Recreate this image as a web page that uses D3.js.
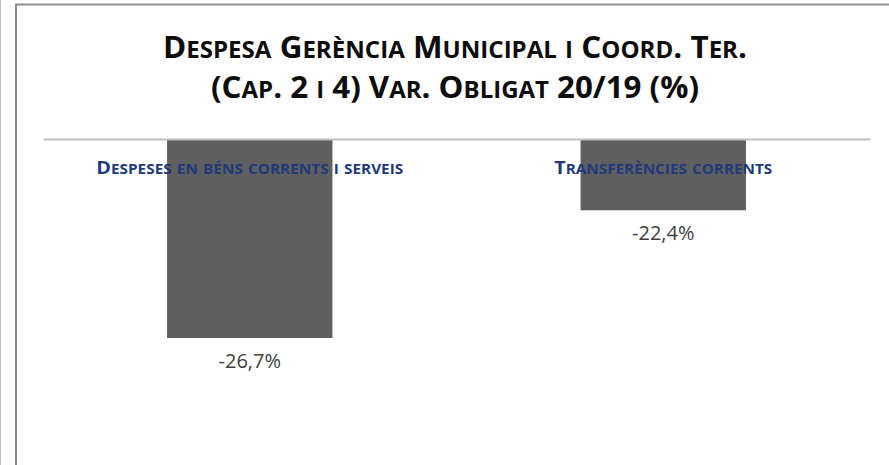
<!DOCTYPE html>
<meta charset="utf-8">
<body style="margin:0;background:#fff">
<style>
text { font-family: "Open Sans", "Noto Sans", sans-serif; }
.title { font-weight: bold; fill: #0d0d0d; }
.cat { font-weight: bold; fill: #1f3a7a; }
.val { fill: #404040; }
</style>
<script src="https://cdn.jsdelivr.net/npm/d3@7"></script>
<script>

var categories = ["Despeses en béns corrents i serveis", "Transferències corrents"];
var values = [-26.7, -22.4];
var valueLabels = ["-26,7%", "-22,4%"];
var titleLines = ["Despesa Gerència Municipal i Coord. Ter.", "(Cap. 2 i 4) Var. Obligat 20/19 (%)"];

var W = 889, H = 465;
var svg = d3.select("body").append("svg")
    .attr("width", W)
    .attr("height", H);

// fake small caps: lowercase runs become smaller uppercase tspans
function smallCaps(sel, big, small) {
  sel.each(function(d) {
    var t = d3.select(this);
    var runs = d.match(/[a-zà-ÿ]+|[^a-zà-ÿ]+/g);
    runs.forEach(function(r) {
      var low = /[a-zà-ÿ]/.test(r);
      t.append("tspan")
        .style("font-size", (low ? small : big) + "px")
        .text(low ? r.toUpperCase() : r);
    });
  });
}

// outer frame
svg.append("line").attr("x1", 0.5).attr("x2", 0.5).attr("y1", 0).attr("y2", H)
    .style("stroke", "#bbb").style("stroke-width", 1);
svg.append("path")
    .attr("d", "M16,465 V4.5 H889")
    .style("fill", "none").style("stroke", "#8c8c8c").style("stroke-width", 2);

var x = d3.scaleBand()
    .domain(categories)
    .range([43, 870])
    .paddingInner(0.6)
    .paddingOuter(0.3);

var y = d3.scaleLinear()
    .domain([-20, -30])
    .range([139, 436]);

// title
svg.selectAll(".title")
    .data(titleLines)
  .enter().append("text")
    .attr("class", "title")
    .attr("x", 455)
    .attr("y", function(d, i) { return 58 + i * 40; })
    .attr("text-anchor", "middle")
    .attr("textLength", function(d, i) { return i ? 488 : 584; })
    .attr("lengthAdjust", "spacingAndGlyphs")
    .call(smallCaps, 30, 23);

// bars
svg.selectAll(".bar")
    .data(values)
  .enter().append("rect")
    .attr("class", "bar")
    .attr("x", function(d, i) { return x(categories[i]); })
    .attr("y", y(-20))
    .attr("width", x.bandwidth())
    .attr("height", function(d) { return y(d) - y(-20); })
    .style("fill", "#5f5f5f");

// axis line at top of the value range
svg.append("g")
    .attr("transform", "translate(0," + y(-20) + ")")
    .call(d3.axisTop(x).tickSize(0).tickFormat(""))
    .call(function(g) {
      g.select(".domain").style("stroke", "#bfbfbf").style("stroke-width", 2);
    });

// category labels
svg.selectAll(".cat")
    .data(categories)
  .enter().append("text")
    .attr("class", "cat")
    .attr("x", function(d) { return x(d) + x.bandwidth() / 2; })
    .attr("y", 174)
    .attr("text-anchor", "middle")
    .attr("textLength", function(d, i) { return i ? 218 : 307; })
    .attr("lengthAdjust", "spacingAndGlyphs")
    .call(smallCaps, 17.5, 13.5);

// value labels
svg.selectAll(".val")
    .data(values)
  .enter().append("text")
    .attr("class", "val")
    .attr("x", function(d, i) { return x(categories[i]) + x.bandwidth() / 2; })
    .attr("y", function(d) { return y(d) + 30; })
    .attr("text-anchor", "middle")
    .style("font-size", "20px")
    .text(function(d, i) { return valueLabels[i]; });

</script>
